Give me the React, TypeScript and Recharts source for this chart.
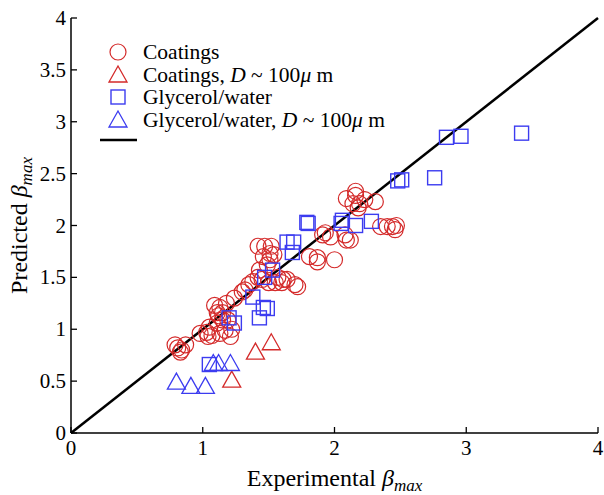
import React from "react";
import { ScatterChart, Scatter, XAxis, YAxis, ReferenceLine } from "recharts";

const coatings: [number, number][] = [
  [0.79, 0.85], [0.81, 0.82], [0.84, 0.8], [0.87, 0.85], [0.83, 0.78],
  [0.98, 0.96], [1.03, 0.97], [1.04, 0.93], [1.05, 1.02], [1.07, 0.94],
  [1.11, 1.06], [1.13, 0.96], [1.17, 0.99], [1.21, 0.93], [1.15, 1.09],
  [1.19, 1.09], [1.11, 1.16], [1.15, 1.16], [1.13, 1.21], [1.09, 1.23],
  [1.18, 1.25], [1.12, 1.13], [1.22, 1.0], [1.24, 1.3], [1.3, 1.36],
  [1.32, 1.38], [1.35, 1.43], [1.38, 1.46], [1.42, 1.5], [1.43, 1.57],
  [1.49, 1.62], [1.51, 1.67], [1.54, 1.72], [1.42, 1.8], [1.47, 1.8],
  [1.52, 1.8], [1.51, 1.73], [1.46, 1.7], [1.45, 1.48], [1.5, 1.45],
  [1.55, 1.45], [1.57, 1.5], [1.6, 1.45], [1.64, 1.48], [1.72, 1.41],
  [1.61, 1.48], [1.7, 1.43], [1.81, 1.7], [1.87, 1.69], [1.87, 1.65],
  [2.0, 1.67], [1.91, 1.91], [1.97, 1.89], [2.08, 1.91], [2.09, 1.86],
  [2.12, 1.86], [1.93, 1.93], [2.09, 2.26], [2.16, 2.29], [2.19, 2.21],
  [2.23, 2.25], [2.31, 2.23], [2.18, 2.17], [2.14, 2.21], [2.16, 2.33],
  [2.4, 1.99], [2.44, 1.99], [2.47, 2.0], [2.46, 1.96], [2.35, 1.99],
];

const coatingsD100: [number, number][] = [
  [1.4, 0.78], [1.52, 0.87], [1.22, 0.51],
];

const glycerol: [number, number][] = [
  [2.85, 2.85], [2.96, 2.86], [3.42, 2.89], [2.76, 2.46], [2.51, 2.44],
  [2.48, 2.43], [2.28, 2.04], [2.16, 2.0], [2.06, 2.05], [2.05, 2.02],
  [1.79, 2.03], [1.8, 2.02], [1.64, 1.84], [1.69, 1.84], [1.68, 1.74],
  [1.47, 1.5], [1.53, 1.57], [1.38, 1.31], [1.46, 1.21], [1.49, 1.2],
  [1.43, 1.11], [1.2, 1.11], [1.24, 1.06], [1.05, 0.66],
];

const glycerolD100: [number, number][] = [
  [0.8, 0.49], [0.91, 0.45], [1.02, 0.45], [1.08, 0.67], [1.12, 0.67], [1.21, 0.67],
];

const xTicks = [0, 1, 2, 3, 4];
const yTicks = [0, 0.5, 1, 1.5, 2, 2.5, 3, 3.5, 4];

const RED = "#d42a2a";
const BLUE = "#3c3cf0";
const FONT = "Liberation Serif, Times New Roman, serif";

const toPts = (a: [number, number][]) => a.map(([x, y]) => ({ x, y }));

const CircleShape = (p: any) => (
  <circle cx={p.cx} cy={p.cy} r={8} fill="none" stroke={RED} strokeWidth={1.2} />
);
const SquareShape = (p: any) => (
  <rect x={p.cx - 7} y={p.cy - 7} width={14} height={14} fill="none" stroke={BLUE} strokeWidth={1.4} />
);
const triPath = (cx: number, cy: number) =>
  `M${cx - 9},${cy + 7} L${cx + 9},${cy + 7} L${cx},${cy - 9} Z`;
const RedTri = (p: any) => (
  <path d={triPath(p.cx, p.cy)} fill="none" stroke={RED} strokeWidth={1.3} />
);
const BlueTri = (p: any) => (
  <path d={triPath(p.cx, p.cy)} fill="none" stroke={BLUE} strokeWidth={1.3} />
);

const XTick = (p: any) => (
  <g>
    <line x1={p.x} x2={p.x} y1={p.y} y2={p.y - 6} stroke="#000" strokeWidth={1.3} />
    <text x={p.x} y={p.y + 22} textAnchor="middle" style={{ fontFamily: FONT, fontSize: 21 }} fill="#000">
      {String(p.payload.value)}
    </text>
  </g>
);
const YTick = (p: any) => (
  <g>
    <line x1={p.x} x2={p.x + 6} y1={p.y} y2={p.y} stroke="#000" strokeWidth={1.3} />
    <text x={p.x - 5} y={p.y + 7} textAnchor="end" style={{ fontFamily: FONT, fontSize: 21 }} fill="#000">
      {String(p.payload.value)}
    </text>
  </g>
);

const XLabel = (p: any) => {
  const vb = p.viewBox || { x: 71, y: 433, width: 527 };
  return (
    <text x={vb.x + vb.width / 2} y={vb.y + 53} textAnchor="middle" style={{ fontFamily: FONT, fontSize: 24 }} fill="#000">
      Experimental <tspan fontStyle="italic">β</tspan>
      <tspan fontStyle="italic" fontSize={17} dy={5}>max</tspan>
    </text>
  );
};
const YLabel = (p: any) => {
  const vb = p.viewBox || { x: 0, y: 18, height: 415 };
  const cx = 27;
  const cy = vb.y + vb.height / 2;
  return (
    <text x={cx} y={cy} transform={`rotate(-90, ${cx}, ${cy})`} textAnchor="middle" style={{ fontFamily: FONT, fontSize: 24 }} fill="#000">
      Predicted <tspan fontStyle="italic">β</tspan>
      <tspan fontStyle="italic" fontSize={17} dy={5}>max</tspan>
    </text>
  );
};

const Legend = () => {
  const tx = 143;
  const rows = [52, 75, 97, 120];
  return (
    <svg width={604} height={160} style={{ position: "absolute", left: 0, top: 0, pointerEvents: "none" }}>
      <circle cx={118} cy={rows[0]} r={8} fill="none" stroke={RED} strokeWidth={1.2} />
      <path d={triPath(118, rows[1])} fill="none" stroke={RED} strokeWidth={1.3} />
      <rect x={111} y={rows[2] - 7} width={14} height={14} fill="none" stroke={BLUE} strokeWidth={1.4} />
      <path d={triPath(118, rows[3])} fill="none" stroke={BLUE} strokeWidth={1.3} />
      <line x1={100} x2={137} y1={140} y2={140} stroke="#000" strokeWidth={2.5} />
      <g style={{ fontFamily: FONT, fontSize: 21.5 }} fill="#000">
        <text x={tx} y={rows[0] + 7}>Coatings</text>
        <text x={tx} y={rows[1] + 7}>
          Coatings, <tspan fontStyle="italic">D</tspan> ~ 100<tspan fontStyle="italic">μ</tspan> m
        </text>
        <text x={tx} y={rows[2] + 7}>Glycerol/water</text>
        <text x={tx} y={rows[3] + 7}>
          Glycerol/water, <tspan fontStyle="italic">D</tspan> ~ 100<tspan fontStyle="italic">μ</tspan> m
        </text>
      </g>
    </svg>
  );
};

export default function App() {
  return (
    <div style={{ position: "absolute", left: 0, top: 0, width: 604, height: 495, background: "#fff" }}>
      <ScatterChart width={604} height={495} margin={{ top: 18, right: 6, bottom: 0, left: 0 }}>
        <XAxis
          type="number"
          dataKey="x"
          domain={[0, 4]}
          ticks={xTicks}
          height={62}
          tickSize={0}
          tickMargin={0}
          tickLine={false}
          tick={<XTick />}
          axisLine={{ stroke: "#000", strokeWidth: 1.5 }}
          allowDataOverflow
          label={<XLabel />}
        />
        <YAxis
          type="number"
          dataKey="y"
          domain={[0, 4]}
          ticks={yTicks}
          width={71}
          tickSize={0}
          tickMargin={0}
          tickLine={false}
          tick={<YTick />}
          axisLine={{ stroke: "#000", strokeWidth: 1.5 }}
          allowDataOverflow
          label={<YLabel />}
        />
        <ReferenceLine
          segment={[{ x: 0, y: 0 }, { x: 4, y: 4 }]}
          stroke="#000"
          strokeWidth={2.5}
          ifOverflow="visible"
        />
        <Scatter data={toPts(coatings)} shape={<CircleShape />} isAnimationActive={false} />
        <Scatter data={toPts(coatingsD100)} shape={<RedTri />} isAnimationActive={false} />
        <Scatter data={toPts(glycerol)} shape={<SquareShape />} isAnimationActive={false} />
        <Scatter data={toPts(glycerolD100)} shape={<BlueTri />} isAnimationActive={false} />
      </ScatterChart>
      <Legend />
    </div>
  );
}
